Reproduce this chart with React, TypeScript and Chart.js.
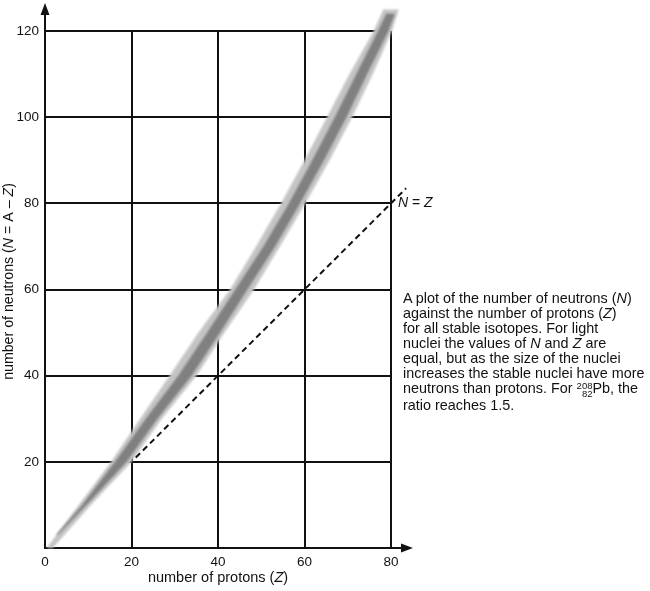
import React, { useEffect, useRef } from "react";
import { Chart, registerables } from "chart.js";

Chart.register(...registerables);

// Stable isotopes: for each neutron number N, the spread of proton numbers Z
const bandN = [0, 10, 20, 30, 40, 50, 60, 70, 80, 90, 100, 110, 120, 125];
const bandZLow = [0.4, 7.8, 15.3, 22.0, 28.8, 35.5, 42.8, 48.8, 54.6, 60.0, 65.2, 70.4, 76.0, 78.2];
const bandZHigh = [1.8, 10.6, 20.0, 27.0, 35.0, 41.5, 48.3, 54.3, 60.2, 65.8, 71.0, 75.8, 80.2, 81.8];

// Densest part of the band
const coreN = [3, 10, 20, 30, 40, 50, 60, 70, 80, 90, 100, 110, 120, 124];
const coreZLow = [2.6, 8.6, 16.2, 23.3, 30.8, 37.5, 44.0, 50.5, 56.4, 61.8, 67.0, 72.0, 77.0, 78.9];
const coreZHigh = [3.0, 9.6, 18.9, 26.0, 33.9, 40.5, 46.8, 53.2, 59.0, 64.5, 69.7, 74.5, 79.4, 80.9];

// Reference line N = Z
const equalLine = [21, 83.5];

const xTicks = [0, 20, 40, 60, 80];
const yTicks = [0, 20, 40, 60, 80, 100, 120];

const FONT = "'Liberation Sans', Arial, Helvetica, sans-serif";
const INK = "#111";

type Seg = { t: string; i?: boolean };

function drawRich(
  ctx: CanvasRenderingContext2D,
  segs: Seg[],
  x: number,
  y: number,
  size: number,
  align: "left" | "center",
  rotate = 0
) {
  ctx.save();
  ctx.translate(x, y);
  ctx.rotate(rotate);
  ctx.fillStyle = INK;
  ctx.textBaseline = "middle";
  ctx.textAlign = "left";
  const fontOf = (s: Seg) => `${s.i ? "italic " : ""}${size}px ${FONT}`;
  let total = 0;
  for (const s of segs) {
    ctx.font = fontOf(s);
    total += ctx.measureText(s.t).width;
  }
  let cx = align === "center" ? -total / 2 : 0;
  for (const s of segs) {
    ctx.font = fontOf(s);
    ctx.fillText(s.t, cx, 0);
    cx += ctx.measureText(s.t).width;
  }
  ctx.restore();
}

// Fills the area between two boundary datasets, using the positions the chart computed
const bandFill = {
  id: "bandFill",
  beforeDatasetsDraw(chart: any) {
    const ctx: CanvasRenderingContext2D = chart.ctx;
    const pairs: [number, number, string][] = [
      [0, 1, "#c4c4c4"],
      [2, 3, "#808080"],
    ];
    ctx.save();
    ctx.filter = "blur(1.2px)";
    for (const [a, b, color] of pairs) {
      const lo = chart.getDatasetMeta(a).data;
      const hi = chart.getDatasetMeta(b).data;
      ctx.beginPath();
      lo.forEach((p: any, k: number) => (k === 0 ? ctx.moveTo(p.x, p.y) : ctx.lineTo(p.x, p.y)));
      for (let k = hi.length - 1; k >= 0; k--) ctx.lineTo(hi[k].x, hi[k].y);
      ctx.closePath();
      ctx.fillStyle = color;
      ctx.fill();
    }
    ctx.restore();
  },
};

// Axis arrows, axis titles and the N = Z label
const decorations = {
  id: "decorations",
  afterDraw(chart: any) {
    const ctx: CanvasRenderingContext2D = chart.ctx;
    const xs = chart.scales.x;
    const ys = chart.scales.y;
    const x0 = xs.getPixelForValue(0);
    const y0 = ys.getPixelForValue(0);
    const xEnd = xs.getPixelForValue(80);
    const yTop = ys.getPixelForValue(120);

    ctx.save();
    ctx.strokeStyle = INK;
    ctx.fillStyle = INK;
    ctx.lineWidth = 2;
    // vertical axis extension + arrow
    ctx.beginPath();
    ctx.moveTo(x0, yTop);
    ctx.lineTo(x0, yTop - 18);
    ctx.stroke();
    ctx.beginPath();
    ctx.moveTo(x0, yTop - 28);
    ctx.lineTo(x0 - 4.5, yTop - 16);
    ctx.lineTo(x0 + 4.5, yTop - 16);
    ctx.closePath();
    ctx.fill();
    // horizontal axis extension + arrow
    ctx.beginPath();
    ctx.moveTo(xEnd, y0);
    ctx.lineTo(xEnd + 12, y0);
    ctx.stroke();
    ctx.beginPath();
    ctx.moveTo(xEnd + 22, y0);
    ctx.lineTo(xEnd + 10, y0 - 4.5);
    ctx.lineTo(xEnd + 10, y0 + 4.5);
    ctx.closePath();
    ctx.fill();
    ctx.restore();

    drawRich(
      ctx,
      [{ t: "number of protons (" }, { t: "Z", i: true }, { t: ")" }],
      (x0 + xEnd) / 2,
      578,
      14.5,
      "center"
    );
    drawRich(
      ctx,
      [
        { t: "number of neutrons (" },
        { t: "N", i: true },
        { t: " = A – " },
        { t: "Z", i: true },
        { t: ")" },
      ],
      9,
      (yTop + y0) / 2 - 8,
      14.2,
      "center",
      -Math.PI / 2
    );
    drawRich(
      ctx,
      [{ t: "N", i: true }, { t: " = " }, { t: "Z", i: true }],
      xs.getPixelForValue(80) + 7,
      ys.getPixelForValue(80),
      14,
      "left"
    );
  },
};

export default function App() {
  const ref = useRef<HTMLCanvasElement | null>(null);

  useEffect(() => {
    if (!ref.current) return;
    const pts = (zs: number[], ns: number[]) => zs.map((z, k) => ({ x: z, y: ns[k] }));
    const hidden = { borderWidth: 0, pointRadius: 0, fill: false, clip: false as any, borderColor: "rgba(0,0,0,0)" };

    const chart = new Chart(ref.current, {
      type: "line",
      data: {
        datasets: [
          { label: "band low", data: pts(bandZLow, bandN), ...hidden },
          { label: "band high", data: pts(bandZHigh, bandN), ...hidden },
          { label: "core low", data: pts(coreZLow, coreN), ...hidden },
          { label: "core high", data: pts(coreZHigh, coreN), ...hidden },
          {
            label: "N = Z",
            data: equalLine.map((v) => ({ x: v, y: v })),
            borderColor: INK,
            borderWidth: 2,
            borderDash: [6, 4],
            pointRadius: 0,
            fill: false,
            clip: false as any,
          },
        ],
      },
      options: {
        animation: false,
        responsive: false,
        events: [],
        layout: { padding: { top: 31, right: 259, bottom: 0, left: 0 } },
        plugins: { legend: { display: false }, tooltip: { enabled: false } },
        scales: {
          x: {
            type: "linear",
            min: 0,
            max: 80,
            afterBuildTicks: (s: any) => {
              s.ticks = xTicks.map((v) => ({ value: v }));
            },
            afterFit: (s: any) => {
              s.height = 43;
            },
            ticks: { font: { family: FONT, size: 13.5 }, color: INK, padding: 6, maxRotation: 0 },
            grid: { color: INK, lineWidth: 2, drawTicks: false },
            border: { display: true, color: INK, width: 2 },
          },
          y: {
            type: "linear",
            min: 0,
            max: 120,
            afterBuildTicks: (s: any) => {
              s.ticks = yTicks.map((v) => ({ value: v }));
            },
            afterFit: (s: any) => {
              s.width = 45;
            },
            ticks: {
              font: { family: FONT, size: 13.5 },
              color: INK,
              padding: 6,
              callback: (v: any) => (v === 0 ? "" : String(v)),
            },
            grid: { color: INK, lineWidth: 2, drawTicks: false },
            border: { display: true, color: INK, width: 2 },
          },
        },
      },
      plugins: [bandFill, decorations],
    });
    return () => chart.destroy();
  }, []);

  const cap: React.CSSProperties = {
    position: "absolute",
    left: 403,
    top: 291,
    fontFamily: FONT,
    fontSize: 14.4,
    lineHeight: "15px",
    color: INK,
    whiteSpace: "nowrap",
  };

  return (
    <div style={{ position: "absolute", left: 0, top: 0, width: 650, height: 591, background: "#fff" }}>
      <canvas ref={ref} width={650} height={591} style={{ display: "block" }} />
      <div style={cap}>
        A plot of the number of neutrons (<i>N</i>)<br />
        against the number of protons (<i>Z</i>)<br />
        for all stable isotopes. For light<br />
        nuclei the values of <i>N</i> and <i>Z</i> are<br />
        equal, but as the size of the nuclei<br />
        increases the stable nuclei have more<br />
        neutrons than protons. For{" "}
        <span
          style={{
            display: "inline-block",
            fontSize: 9.5,
            lineHeight: "8px",
            textAlign: "right",
            verticalAlign: "-4px",
          }}
        >
          208
          <br />
          82
        </span>
        Pb, the
        <br />
        ratio reaches 1.5.
      </div>
    </div>
  );
}
